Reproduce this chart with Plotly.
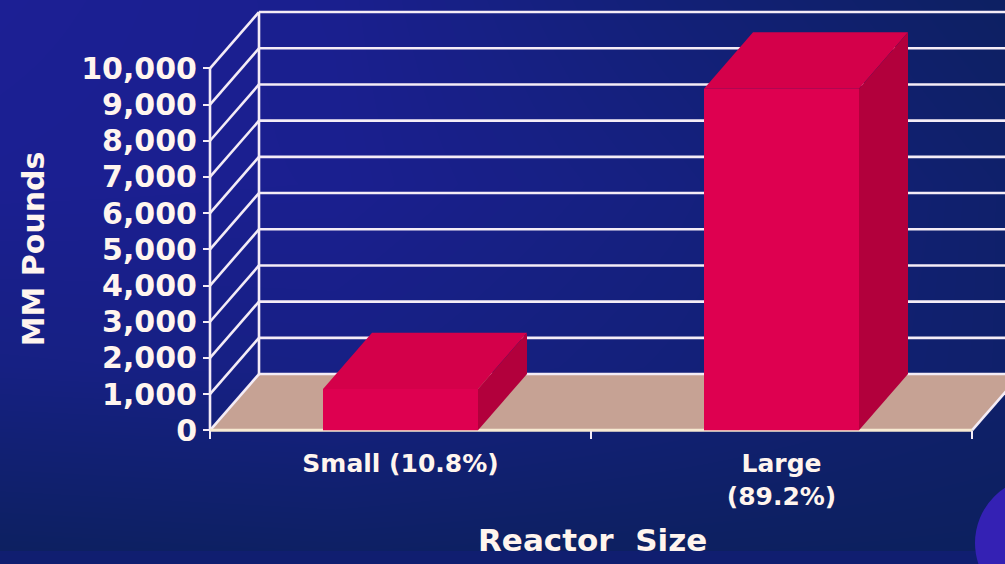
import plotly.graph_objects as go

# ---------------- data ----------------
categories = ["Small (10.8%)", "Large<br>(89.2%)"]
values = [1140, 9440]                      # MM pounds
y_ticks = [0, 1000, 2000, 3000, 4000, 5000, 6000, 7000, 8000, 9000, 10000]
y_tick_labels = ["0", "1,000", "2,000", "3,000", "4,000", "5,000",
                 "6,000", "7,000", "8,000", "9,000", "10,000"]
x_title = "Reactor  Size"
y_title = "MM Pounds"

# ---------------- geometry / style ----------------
W, H = 1005, 564
S = 564 / 548         # vertical compensation for the capture
PX_X = 381.0          # pixels per category unit
PX_Y = 0.036          # pixels per MM pound (reference scale)
X0_PX, BASE_PX = 210, 428
half = 0.2034         # half bar width (category units)
dx = 49 / PX_X        # oblique depth offset (x units)
dy = 56 / PX_Y        # oblique depth offset (value units)

pos = list(range(len(categories)))
left, right = -0.5, len(categories) - 0.5
top = y_ticks[-1]

x_range = [left - 10 / PX_X, left + (W - X0_PX) / PX_X]
y_range = [-4 / PX_Y, BASE_PX / PX_Y]


def py(ypx):
    """reference pixel row -> paper fraction"""
    return 1 - ypx * S / H


LINE = "#f4ecf6"
EDGE = "#f7ead2"
TXT = "#fff5ee"
FLOOR = "#c6a294"
FRONT = "#de0050"
TOPC = "#d4004a"
SIDE = "#b2003c"
FONT = "DejaVu Sans"

fig = go.Figure()

# background gradient (full paper)
bg_z = [
    [0.12, 0.18, 0.12, 0.08],
    [0.70, 0.75, 0.55, 0.30],
    [0.95, 0.92, 0.65, 0.30],
    [1.00, 0.90, 0.50, 0.15],
]
fig.add_trace(go.Heatmap(
    x=[0, 1 / 3, 2 / 3, 1], y=[0, 1 / 3, 2 / 3, 1], z=bg_z, zsmooth="best",
    colorscale=[[0, "#0c205e"], [0.5, "#132079"], [1, "#1c1f94"]],
    showscale=False, hoverinfo="skip", xaxis="x", yaxis="y"))

# floor
fig.add_trace(go.Scatter(
    x=[left, right, right + dx, left + dx, left],
    y=[0, 0, dy, dy, 0], fill="toself", fillcolor=FLOOR, mode="lines",
    line=dict(width=0), hoverinfo="skip", xaxis="x2", yaxis="y2"))

# back wall gridlines + left wall diagonals + frame
gx, gy = [], []
for v in y_ticks:
    gx += [left + dx, right + dx, None]
    gy += [v + dy, v + dy, None]
    gx += [left, left + dx, None]
    gy += [v, v + dy, None]
gx += [left + dx, left + dx, None, left, left, None, right, right + dx, None]
gy += [dy, top + dy, None, 0, top, None, 0, dy, None]
fig.add_trace(go.Scatter(x=gx, y=gy, mode="lines",
                         line=dict(color=LINE, width=2.6), hoverinfo="skip",
                         xaxis="x2", yaxis="y2"))
# front floor edge
fig.add_trace(go.Scatter(x=[left, right], y=[0, 0], mode="lines",
                         line=dict(color=EDGE, width=3), hoverinfo="skip",
                         xaxis="x2", yaxis="y2"))

# bars (front faces)
fig.add_trace(go.Bar(x=pos, y=values, width=2 * half, marker_color=FRONT,
                     marker_line_width=0, xaxis="x3", yaxis="y3"))
# top and side faces
for c, v in zip(pos, values):
    fig.add_trace(go.Scatter(
        x=[c - half, c + half, c + half + dx, c - half + dx, c - half],
        y=[v, v, v + dy, v + dy, v], fill="toself", fillcolor=TOPC,
        mode="lines", line=dict(width=0), hoverinfo="skip",
        xaxis="x3", yaxis="y3"))
    fig.add_trace(go.Scatter(
        x=[c + half, c + half + dx, c + half + dx, c + half, c + half],
        y=[0, dy, v + dy, v, 0], fill="toself", fillcolor=SIDE,
        mode="lines", line=dict(width=0), hoverinfo="skip",
        xaxis="x3", yaxis="y3"))

tick_font = dict(family=FONT, size=30, color=TXT, weight="bold")

fig.update_layout(
    width=W, height=H, autosize=False,
    margin=dict(l=0, r=0, t=0, b=0, pad=0),
    paper_bgcolor="#101e70", plot_bgcolor="rgba(0,0,0,0)",
    showlegend=False,
    xaxis=dict(domain=[0, 1], range=[0, 1], visible=False, anchor="y"),
    yaxis=dict(domain=[0, 1], range=[0, 1], visible=False, anchor="x"),
    xaxis2=dict(domain=[200 / W, 1], range=x_range, anchor="free",
                position=py(BASE_PX), showgrid=False, zeroline=False,
                showline=False, tickmode="array", tickvals=pos,
                ticktext=categories, ticks="outside", ticklen=11,
                tickcolor="rgba(0,0,0,0)",
                tickfont=dict(family=FONT, size=25, color=TXT, weight="bold"),
                minor=dict(tickmode="array", tickvals=[left, 0.5, right],
                           ticks="outside", ticklen=8, tickwidth=2,
                           tickcolor=LINE, showgrid=False)),
    yaxis2=dict(domain=[py(BASE_PX + 4), 1], range=y_range,
                anchor="free", position=X0_PX / W, showgrid=False,
                zeroline=False, showline=False, tickmode="array",
                tickvals=y_ticks, ticktext=y_tick_labels, ticks="outside",
                ticklen=7, tickwidth=2, tickcolor=LINE, tickfont=tick_font),
    xaxis3=dict(overlaying="x2", range=x_range, visible=False, anchor="y3"),
    yaxis3=dict(overlaying="y2", range=y_range, visible=False, anchor="x3"),
    annotations=[
        dict(text=y_title, x=33 / W, y=py(248), xref="paper",
             yref="paper", xanchor="center", yanchor="middle",
             textangle=-90, showarrow=False,
             font=dict(family=FONT, size=30, color=TXT, weight="bold")),
        dict(text=x_title, x=592 / W, y=py(537), xref="paper",
             yref="paper", xanchor="center", yanchor="middle",
             showarrow=False,
             font=dict(family=FONT, size=31, color=TXT, weight="bold")),
    ],
    shapes=[dict(type="circle", xref="paper", yref="paper",
                 x0=(1040 - 65) / W, x1=(1040 + 65) / W,
                 y0=py(540 + 65), y1=py(540 - 65),
                 fillcolor="#3421b4", line=dict(width=0), layer="above")],
)

fig.write_html(
    "out.html",
    config={"displayModeBar": False},
    post_script=(
        "document.documentElement.style.margin='0';"
        "document.documentElement.style.background='#0d1f5e';"
        "document.body.style.margin='0';"
        "document.body.style.background='#0d1f5e';"
        "document.body.style.overflow='hidden';"
    ),
)
